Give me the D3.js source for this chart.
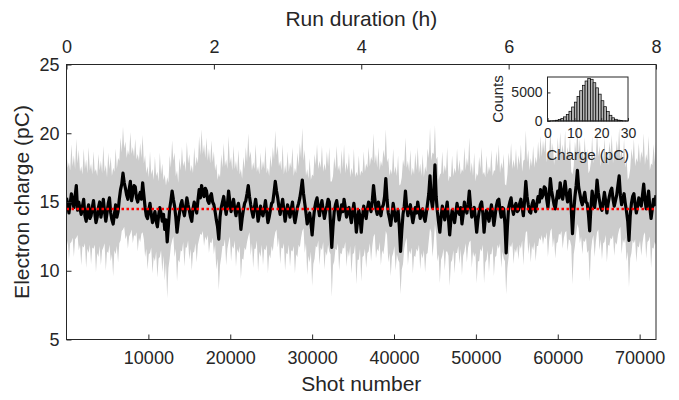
<!DOCTYPE html>
<html>
<head>
<meta charset="utf-8">
<script src="https://cdn.jsdelivr.net/npm/d3@7"></script>
<style>
  body { margin: 0; background: #fff; }
  text { font-family: "Liberation Sans", Arial, sans-serif; fill: #262626; }
</style>
</head>
<body>
<script>
const width = 679;
const height = 400;

// shot spacing of the sampled trace
const shotStep = 150;

// running mean of the electron charge (pC), one value every 150 shots
const meanCharge = [
  15.3, 14.8, 14.2, 14.9, 15.6, 15.1, 14.6, 15.4, 16.2, 14.4, 15.0, 14.5, 14.1, 14.7, 15.2, 14.0, 13.6, 14.3, 14.8, 13.8,
  14.0, 14.6, 15.1, 14.2, 13.5, 13.9, 14.6, 15.0, 13.9, 14.4, 15.2, 14.3, 13.6, 14.2, 14.9, 15.3, 14.2, 13.7, 13.4, 14.1,
  14.8, 13.9, 14.3, 15.2, 15.9, 16.3, 17.1, 16.4, 16.0, 15.5, 15.2, 15.9, 16.5, 15.1, 15.6, 16.2, 16.1, 15.3, 15.0, 15.4,
  15.7, 15.2, 16.4, 15.5, 14.6, 14.0, 13.8, 14.4, 14.9, 14.1, 13.5, 13.9, 14.3, 13.6, 13.2, 14.0, 14.6, 14.2, 13.6, 14.1,
  13.0, 13.7, 12.1, 13.3, 14.5, 15.1, 15.8, 15.2, 14.7, 13.9, 12.8, 13.6, 14.2, 14.8, 15.1, 14.4, 14.0, 14.6, 15.3, 14.8,
  14.4, 13.9, 13.6, 14.5, 15.0, 14.6, 14.2, 15.1, 15.9, 15.3, 16.2, 15.6, 15.4, 16.0, 15.8, 15.1, 14.9, 15.4, 15.6, 15.0,
  14.8, 14.3, 13.7, 13.2, 12.3, 13.9, 14.6, 15.0, 15.4, 14.7, 14.1, 14.8, 15.8, 15.0, 14.3, 14.7, 15.2, 14.5, 14.0, 14.6,
  14.9, 14.2, 13.0, 13.8, 14.4, 14.9, 15.1, 15.6, 16.2, 15.4, 14.8, 14.3, 13.9, 14.6, 15.2, 14.5, 13.6, 14.1, 14.7, 14.2,
  14.0, 14.5, 15.1, 14.3, 13.5, 13.9, 14.4, 14.9, 15.0, 15.7, 16.5, 15.8, 15.3, 14.6, 14.1, 14.7, 15.2, 14.4, 13.6, 14.2,
  14.8, 14.4, 13.9, 14.5, 15.0, 14.1, 13.5, 14.0, 14.6, 14.9, 15.3, 15.9, 16.6, 15.6, 14.9, 14.2, 13.4, 13.8, 14.2, 13.5,
  12.6, 13.7, 14.5, 15.0, 15.3, 14.6, 14.0, 14.7, 15.1, 14.4, 13.8, 14.3, 14.7, 15.2, 15.0, 13.4, 11.7, 13.2, 14.3, 14.8,
  15.1, 14.4, 13.7, 14.2, 14.8, 14.3, 15.2, 14.6, 13.9, 14.5, 14.6, 14.0, 13.5, 14.3, 14.9, 14.1, 12.8, 13.6, 14.4, 13.9,
  12.8, 13.9, 14.7, 14.2, 13.8, 14.5, 15.0, 14.6, 14.3, 15.1, 16.2, 15.3, 14.5, 14.1, 15.0, 14.4, 14.0, 14.6, 14.8, 15.4,
  16.7, 15.2, 14.2, 13.8, 13.3, 14.1, 14.9, 14.3, 13.6, 14.0, 14.4, 13.2, 11.4, 12.9, 14.1, 14.7, 15.8, 14.6, 14.0, 14.5,
  14.8, 14.1, 13.5, 14.0, 14.6, 14.2, 15.0, 14.4, 13.8, 14.3, 14.5, 13.9, 13.6, 14.2, 14.9, 15.6, 16.9, 15.2, 14.6, 15.5,
  17.7, 15.4, 14.3, 13.5, 12.8, 13.9, 14.7, 14.2, 13.7, 14.4, 15.0, 13.8, 12.6, 13.7, 14.4, 14.0, 13.5, 14.2, 14.9, 14.3,
  14.1, 14.6, 13.4, 14.1, 15.0, 14.5, 14.2, 14.8, 15.8, 14.7, 13.9, 14.3, 14.6, 13.8, 12.8, 13.7, 14.3, 14.8, 15.0, 14.2,
  12.8, 13.8, 14.4, 14.0, 13.6, 14.2, 14.8, 14.1, 13.3, 14.0, 14.7, 15.1, 15.2, 14.4, 13.9, 14.6, 14.5, 13.4, 11.3, 13.2,
  14.6, 15.0, 15.3, 14.5, 14.1, 14.7, 14.9, 14.3, 14.4, 14.9, 15.2, 14.6, 14.0, 15.1, 16.5, 15.4, 14.8, 14.3, 14.2, 14.8,
  15.1, 14.6, 14.3, 14.9, 15.4, 15.0, 15.9, 15.3, 15.5, 16.1, 16.0, 15.2, 14.6, 15.5, 16.7, 15.8, 15.3, 14.8, 14.5, 15.2,
  15.8, 15.3, 16.4, 15.7, 15.2, 15.8, 16.5, 15.6, 15.0, 15.5, 15.9, 14.5, 12.7, 14.3, 15.4, 16.2, 17.3, 16.1, 15.6, 15.1,
  14.8, 15.3, 15.7, 15.0, 14.9, 14.1, 12.9, 14.6, 15.8, 15.2, 14.6, 15.3, 16.6, 15.7, 15.1, 14.6, 14.4, 15.0, 15.7, 15.1,
  14.2, 14.9, 15.4, 15.8, 16.0, 15.2, 14.7, 15.1, 15.5, 16.2, 16.9, 15.5, 14.8, 15.3, 15.6, 14.9, 14.3, 13.6, 12.2, 14.0,
  14.9, 15.4, 15.6, 14.8, 14.2, 14.7, 15.3, 14.9, 14.7, 15.5, 16.3, 15.2, 14.5, 15.1, 15.8, 14.6, 13.8, 14.5, 15.2, 14.8,
  15.5
];

// shot-to-shot spread: upper edge of the raw data (pC)
const upperCharge = [
  18.6, 17.5, 17.9, 17.3, 19.2, 17.6, 18.4, 17.4, 19.6, 17.8, 18.8, 17.2, 17.6, 17.0, 18.9, 17.4, 18.1, 17.1, 19.0, 17.3,
  17.8, 17.0, 18.7, 17.2, 17.4, 16.9, 18.5, 17.3, 18.0, 17.1, 19.1, 17.2, 17.7, 16.8, 18.6, 17.4, 18.3, 16.9, 17.5, 17.2,
  18.9, 17.4, 18.2, 18.0, 19.7, 18.6, 20.5, 18.9, 19.4, 18.2, 18.8, 18.4, 20.1, 18.5, 19.0, 18.3, 19.6, 18.1, 18.5, 18.0,
  19.3, 18.2, 19.9, 17.8, 18.4, 17.1, 17.6, 16.8, 18.7, 17.0, 17.4, 16.6, 18.3, 16.9, 17.2, 16.5, 18.6, 17.0, 17.8, 16.6,
  17.0, 16.2, 16.8, 16.4, 18.4, 17.5, 19.5, 18.0, 18.6, 16.9, 17.3, 16.4, 18.2, 17.3, 19.0, 17.6, 18.0, 17.2, 19.4, 17.8,
  18.5, 17.2, 17.7, 17.1, 19.0, 17.6, 18.3, 17.8, 19.8, 18.4, 20.3, 18.5, 19.2, 18.2, 19.7, 18.0, 18.9, 17.8, 19.5, 17.9,
  18.7, 17.3, 17.8, 16.6, 17.1, 16.8, 18.5, 17.5, 19.3, 17.6, 18.1, 17.4, 19.8, 17.8, 18.3, 17.3, 19.1, 17.4, 18.0, 17.2,
  18.8, 17.0, 17.4, 16.7, 18.3, 17.4, 19.0, 17.9, 20.0, 18.2, 18.7, 17.3, 17.9, 17.4, 19.2, 17.2, 17.6, 17.0, 18.6, 17.3,
  18.0, 17.4, 19.1, 17.1, 17.5, 16.9, 18.4, 17.5, 19.0, 18.1, 20.2, 18.4, 19.1, 17.6, 18.0, 17.3, 19.2, 17.0, 17.7, 17.1,
  18.7, 17.2, 17.9, 17.5, 19.0, 16.9, 17.5, 17.1, 18.6, 17.6, 19.3, 18.2, 20.4, 18.0, 18.8, 16.9, 17.4, 16.7, 18.2, 16.6,
  17.0, 16.9, 18.5, 17.7, 19.2, 17.4, 18.0, 17.5, 19.1, 17.2, 17.8, 17.3, 18.7, 17.6, 19.0, 16.5, 16.5, 16.9, 18.3, 17.4,
  19.1, 17.3, 17.7, 17.0, 18.8, 17.4, 19.2, 17.1, 17.9, 17.3, 18.6, 16.8, 17.5, 17.0, 18.9, 16.8, 17.2, 16.9, 18.4, 16.9,
  17.3, 17.1, 18.7, 17.2, 17.8, 17.5, 19.0, 17.6, 18.3, 18.0, 20.0, 17.8, 18.5, 17.5, 19.0, 17.3, 18.0, 17.6, 18.8, 18.2,
  20.3, 17.9, 18.2, 16.9, 17.4, 17.0, 18.9, 17.1, 17.6, 16.9, 18.4, 16.2, 16.3, 16.8, 18.1, 17.6, 19.7, 17.5, 18.0, 17.2,
  18.8, 16.9, 17.5, 17.0, 18.6, 17.3, 19.0, 17.1, 17.8, 16.9, 18.5, 16.8, 17.6, 17.2, 18.9, 18.2, 20.4, 18.0, 18.6, 18.5,
  20.6, 18.1, 18.3, 16.6, 17.0, 17.1, 18.7, 17.0, 17.7, 17.2, 19.0, 16.5, 16.9, 16.8, 18.4, 16.9, 17.5, 17.1, 18.9, 17.2,
  18.1, 17.0, 17.4, 17.2, 19.0, 17.3, 18.2, 17.6, 19.7, 17.1, 17.9, 16.9, 18.6, 16.5, 17.1, 16.9, 18.3, 17.4, 19.0, 17.0,
  17.2, 16.8, 18.4, 17.0, 17.6, 17.2, 18.8, 16.9, 17.3, 17.3, 18.7, 17.6, 19.2, 17.1, 17.9, 17.4, 18.5, 16.3, 16.2, 17.0,
  18.6, 17.6, 19.3, 17.4, 18.1, 17.5, 18.9, 17.3, 18.4, 17.7, 19.2, 17.2, 18.0, 18.1, 20.2, 17.9, 18.8, 17.3, 18.2, 17.6,
  19.1, 17.5, 18.3, 17.8, 19.4, 18.1, 19.8, 18.3, 19.5, 18.6, 19.9, 17.9, 18.6, 18.4, 20.3, 18.5, 19.3, 17.7, 18.5, 18.0,
  19.7, 18.2, 20.1, 18.4, 19.2, 18.3, 20.2, 18.1, 19.0, 18.4, 19.8, 17.2, 17.0, 17.6, 19.4, 18.6, 20.6, 18.5, 19.6, 17.9,
  18.8, 18.1, 19.7, 17.8, 18.9, 17.1, 17.3, 17.9, 19.8, 17.8, 18.6, 18.2, 20.3, 18.3, 19.1, 17.6, 18.4, 17.9, 19.7, 18.0,
  18.2, 17.7, 19.4, 18.5, 19.9, 17.8, 18.7, 18.1, 19.5, 18.6, 20.4, 18.2, 18.8, 18.0, 19.6, 17.5, 18.3, 16.6, 16.8, 17.4,
  18.9, 18.1, 19.6, 17.6, 18.2, 17.9, 19.3, 17.8, 18.7, 18.2, 20.0, 17.7, 18.5, 18.0, 19.8, 17.3, 17.8, 17.7, 19.2, 17.9,
  19.4
];

// shot-to-shot spread: lower edge of the raw data (pC)
const lowerCharge = [
  11.6, 12.2, 10.8, 12.0, 12.1, 12.4, 11.0, 12.3, 12.4, 12.6, 11.5, 11.9, 10.4, 11.8, 11.7, 12.0, 10.2, 11.6, 11.3, 11.9,
  10.5, 11.7, 11.6, 11.9, 9.9, 11.3, 11.0, 11.8, 10.4, 11.5, 11.7, 12.0, 10.0, 11.4, 11.3, 11.9, 10.7, 11.2, 9.6, 11.5,
  11.2, 11.8, 10.6, 12.0, 12.2, 12.9, 13.0, 13.2, 12.3, 12.6, 11.6, 12.5, 12.7, 13.0, 12.0, 12.6, 12.5, 12.8, 11.4, 12.4,
  12.1, 12.7, 12.8, 12.3, 11.0, 11.6, 10.1, 11.2, 11.3, 11.7, 9.8, 11.0, 10.7, 11.4, 9.5, 10.9, 11.0, 11.5, 9.9, 11.1,
  9.3, 10.6, 8.0, 10.2, 10.9, 11.8, 12.2, 12.5, 11.0, 11.6, 9.2, 10.8, 10.6, 11.5, 11.4, 12.1, 10.3, 11.7, 11.7, 12.2,
  10.8, 11.6, 10.0, 11.3, 11.4, 12.0, 10.6, 11.9, 12.3, 12.7, 12.6, 12.9, 11.8, 12.5, 12.2, 12.6, 11.3, 12.1, 12.0, 12.4,
  11.2, 11.9, 10.1, 10.9, 8.6, 10.4, 11.0, 11.8, 11.8, 12.3, 10.4, 11.6, 12.1, 12.5, 10.7, 11.8, 11.6, 12.2, 10.3, 11.6,
  11.3, 11.8, 9.4, 10.9, 10.8, 11.7, 11.5, 12.1, 12.5, 12.8, 11.1, 12.0, 10.2, 11.6, 11.6, 12.2, 9.9, 11.4, 11.0, 11.9,
  10.4, 11.6, 11.5, 11.9, 9.8, 11.2, 10.9, 11.8, 11.4, 12.3, 12.8, 13.0, 11.7, 12.4, 10.5, 11.7, 11.6, 12.0, 10.0, 11.3,
  11.2, 11.9, 10.3, 11.5, 11.4, 11.8, 9.8, 11.2, 11.0, 11.9, 11.7, 12.4, 12.9, 13.1, 11.3, 12.0, 9.7, 11.1, 10.6, 11.4,
  8.9, 10.5, 10.9, 11.8, 11.7, 12.2, 10.4, 11.7, 11.5, 12.1, 10.1, 11.4, 11.1, 11.9, 11.4, 11.2, 8.1, 10.4, 10.7, 11.6,
  11.5, 12.0, 10.0, 11.3, 11.2, 11.7, 11.6, 12.1, 10.3, 11.5, 11.0, 11.8, 9.8, 11.2, 11.3, 11.9, 9.0, 10.8, 10.8, 11.6,
  9.2, 11.0, 11.1, 11.6, 10.2, 11.3, 11.4, 12.0, 10.7, 11.8, 12.5, 12.7, 10.9, 11.6, 11.4, 12.1, 10.4, 11.5, 11.2, 11.9,
  12.9, 12.6, 10.6, 11.3, 9.6, 11.0, 11.3, 11.8, 10.0, 11.2, 10.8, 10.6, 8.3, 10.1, 10.5, 11.6, 12.1, 12.4, 10.4, 11.5,
  11.2, 11.7, 9.8, 11.1, 11.0, 11.6, 11.4, 11.9, 10.1, 11.3, 10.9, 11.5, 9.9, 11.2, 11.3, 12.2, 13.1, 12.8, 11.0, 12.0,
  13.4, 12.7, 10.7, 11.2, 9.1, 10.8, 11.1, 11.6, 10.0, 11.4, 11.4, 11.1, 8.9, 10.6, 10.8, 11.5, 9.8, 11.3, 11.3, 11.8,
  10.5, 11.6, 9.7, 11.1, 11.4, 12.0, 10.6, 11.7, 12.1, 12.2, 10.2, 11.4, 11.0, 11.3, 9.1, 10.7, 10.7, 11.6, 11.4, 11.9,
  9.1, 10.6, 10.8, 11.5, 9.9, 11.2, 11.2, 11.8, 9.6, 11.0, 11.1, 11.9, 11.6, 12.0, 10.2, 11.4, 10.9, 10.7, 8.3, 10.2,
  11.0, 11.9, 11.7, 12.1, 10.5, 11.6, 11.3, 11.8, 10.8, 11.9, 11.6, 12.2, 10.4, 12.0, 12.8, 12.9, 11.2, 12.1, 10.6, 11.8,
  11.5, 12.1, 10.7, 11.8, 11.8, 12.4, 12.2, 12.6, 11.9, 12.5, 12.3, 12.8, 11.0, 12.2, 12.9, 13.1, 11.7, 12.4, 10.9, 12.0,
  12.1, 12.7, 12.6, 12.9, 11.6, 12.4, 12.8, 12.9, 11.4, 12.3, 12.2, 11.8, 9.0, 11.2, 11.8, 12.7, 13.4, 13.1, 12.0, 12.5,
  11.2, 12.2, 12.1, 12.4, 11.3, 11.5, 9.2, 11.4, 12.2, 12.6, 11.0, 12.1, 12.8, 13.0, 11.5, 12.3, 10.8, 12.0, 12.1, 12.6,
  10.6, 11.9, 11.8, 12.4, 12.3, 12.6, 11.1, 12.1, 11.9, 12.6, 13.0, 13.2, 11.2, 12.3, 12.0, 12.4, 10.7, 11.4, 8.8, 10.9,
  11.3, 12.2, 12.0, 12.3, 10.6, 11.8, 11.7, 12.2, 11.1, 12.0, 12.6, 12.8, 10.9, 12.1, 12.2, 12.5, 10.2, 11.7, 11.6, 12.1,
  11.9
];

const overallMean = 14.5;

// inset histogram, 1 pC bins from 0 to 30 pC
const binEdges = d3.range(0, 31, 1);
const binCounts = [
  10, 25, 60, 130, 250, 440, 720, 1150, 1700, 2450,
  3300, 4300, 5300, 6250, 7000, 7450, 7300, 6700, 5800, 4700,
  3550, 2500, 1650, 1000, 560, 300, 150, 70, 30, 12
];

// axis ticks
const shotTicks = [10000, 20000, 30000, 40000, 50000, 60000, 70000];
const hourTicks = [0, 2, 4, 6, 8];
const chargeTicks = [5, 10, 15, 20, 25];
const histXTicks = [0, 10, 20, 30];
const histYTicks = [0, 5000];

const plot = { left: 66.5, right: 656, top: 64.5, bottom: 339.5 };

const svg = d3.select('body')
    .append('svg')
    .attr('width', width)
    .attr('height', height);

const shots = meanCharge.map((d, i) => i * shotStep);

const xScale = d3.scaleLinear().domain([0, 72000]).range([plot.left, plot.right]);
const hScale = d3.scaleLinear().domain([0, 8]).range([plot.left, plot.right]);
const yScale = d3.scaleLinear().domain([5, 25]).range([plot.bottom, plot.top]);

svg.append('clipPath')
    .attr('id', 'plotClip')
    .append('rect')
    .attr('x', plot.left)
    .attr('y', plot.top)
    .attr('width', plot.right - plot.left)
    .attr('height', plot.bottom - plot.top);

const marks = svg.append('g').attr('clip-path', 'url(#plotClip)');

// grey spread band
let band = d3.area()
    .x((d, i) => xScale(shots[i]))
    .y0((d, i) => yScale(lowerCharge[i]))
    .y1((d, i) => yScale(upperCharge[i]));

marks.append('path')
    .datum(upperCharge)
    .attr('d', band)
    .attr('fill', '#cccccc');

// running mean
let line = d3.line()
    .x((d, i) => xScale(shots[i]))
    .y(d => yScale(d));

marks.append('path')
    .datum(meanCharge)
    .attr('d', line)
    .attr('fill', 'none')
    .attr('stroke', '#000')
    .attr('stroke-width', 3.2)
    .attr('stroke-linejoin', 'round');

// overall mean, red dotted
marks.append('line')
    .attr('x1', plot.left)
    .attr('x2', plot.right)
    .attr('y1', yScale(overallMean))
    .attr('y2', yScale(overallMean))
    .attr('stroke', '#ff0000')
    .attr('stroke-width', 2.5)
    .attr('stroke-dasharray', '2.5,2.5');

// axes
const axisColor = '#262626';

function styleAxis(g) {
    g.select('.domain').remove();
    g.selectAll('line').attr('stroke', axisColor);
    g.selectAll('text')
        .style('font-size', '18px')
        .style('font-family', '"Liberation Sans", Arial, sans-serif')
        .attr('fill', axisColor);
}

svg.append('g')
    .attr('transform', `translate(0, ${plot.bottom})`)
    .call(d3.axisBottom(xScale).tickValues(shotTicks).tickFormat(d3.format('d'))
        .tickSizeInner(-5).tickSizeOuter(0).tickPadding(12))
    .call(styleAxis);

svg.append('g')
    .attr('transform', `translate(0, ${plot.top})`)
    .call(d3.axisTop(hScale).tickValues(hourTicks)
        .tickSizeInner(-5).tickSizeOuter(0).tickPadding(12))
    .call(styleAxis);

svg.append('g')
    .attr('transform', `translate(${plot.left}, 0)`)
    .call(d3.axisLeft(yScale).tickValues(chargeTicks)
        .tickSizeInner(-5).tickSizeOuter(0).tickPadding(7))
    .call(styleAxis);

svg.append('rect')
    .attr('x', plot.left)
    .attr('y', plot.top)
    .attr('width', plot.right - plot.left)
    .attr('height', plot.bottom - plot.top)
    .attr('fill', 'none')
    .attr('stroke', axisColor)
    .attr('stroke-width', 1);

// axis titles
svg.append('text')
    .attr('x', (plot.left + plot.right) / 2)
    .attr('y', 391)
    .attr('text-anchor', 'middle')
    .style('font-size', '21px')
    .text('Shot number');

svg.append('text')
    .attr('x', (plot.left + plot.right) / 2)
    .attr('y', 26)
    .attr('text-anchor', 'middle')
    .style('font-size', '21px')
    .text('Run duration (h)');

svg.append('text')
    .attr('transform', `translate(29, ${(plot.top + plot.bottom) / 2}) rotate(-90)`)
    .attr('text-anchor', 'middle')
    .style('font-size', '21px')
    .text('Electron charge (pC)');

// inset histogram
const inset = { left: 547.5, right: 628, top: 77, bottom: 121 };

const hx = d3.scaleLinear().domain([0, 30]).range([inset.left, inset.right]);
const hy = d3.scaleLinear().domain([0, 7700]).range([inset.bottom, inset.top]);

svg.append('rect')
    .attr('x', inset.left)
    .attr('y', inset.top)
    .attr('width', inset.right - inset.left)
    .attr('height', inset.bottom - inset.top)
    .attr('fill', '#fff');

svg.append('g')
    .selectAll('rect')
    .data(binCounts)
    .join('rect')
    .attr('x', (d, i) => hx(binEdges[i]))
    .attr('y', d => hy(d))
    .attr('width', (d, i) => hx(binEdges[i + 1]) - hx(binEdges[i]))
    .attr('height', d => hy(0) - hy(d))
    .attr('fill', '#b3b3b3')
    .attr('stroke', '#000')
    .attr('stroke-width', 0.7);

function styleInsetAxis(g) {
    g.select('.domain').remove();
    g.selectAll('line').attr('stroke', axisColor);
    g.selectAll('text')
        .style('font-size', '14px')
        .style('font-family', '"Liberation Sans", Arial, sans-serif')
        .attr('fill', axisColor);
}

svg.append('g')
    .attr('transform', `translate(0, ${inset.bottom})`)
    .call(d3.axisBottom(hx).tickValues(histXTicks)
        .tickSizeInner(-3).tickSizeOuter(0).tickPadding(7))
    .call(styleInsetAxis);

svg.append('g')
    .attr('transform', `translate(${inset.left}, 0)`)
    .call(d3.axisLeft(hy).tickValues(histYTicks).tickFormat(d3.format('d'))
        .tickSizeInner(-3).tickSizeOuter(0).tickPadding(5))
    .call(styleInsetAxis);

svg.append('rect')
    .attr('x', inset.left)
    .attr('y', inset.top)
    .attr('width', inset.right - inset.left)
    .attr('height', inset.bottom - inset.top)
    .attr('fill', 'none')
    .attr('stroke', axisColor)
    .attr('stroke-width', 1);

svg.append('text')
    .attr('x', (inset.left + inset.right) / 2)
    .attr('y', 160)
    .attr('text-anchor', 'middle')
    .style('font-size', '15px')
    .text('Charge (pC)');

svg.append('text')
    .attr('transform', `translate(503, ${(inset.top + inset.bottom) / 2}) rotate(-90)`)
    .attr('text-anchor', 'middle')
    .style('font-size', '15px')
    .text('Counts');
</script>
</body>
</html>
